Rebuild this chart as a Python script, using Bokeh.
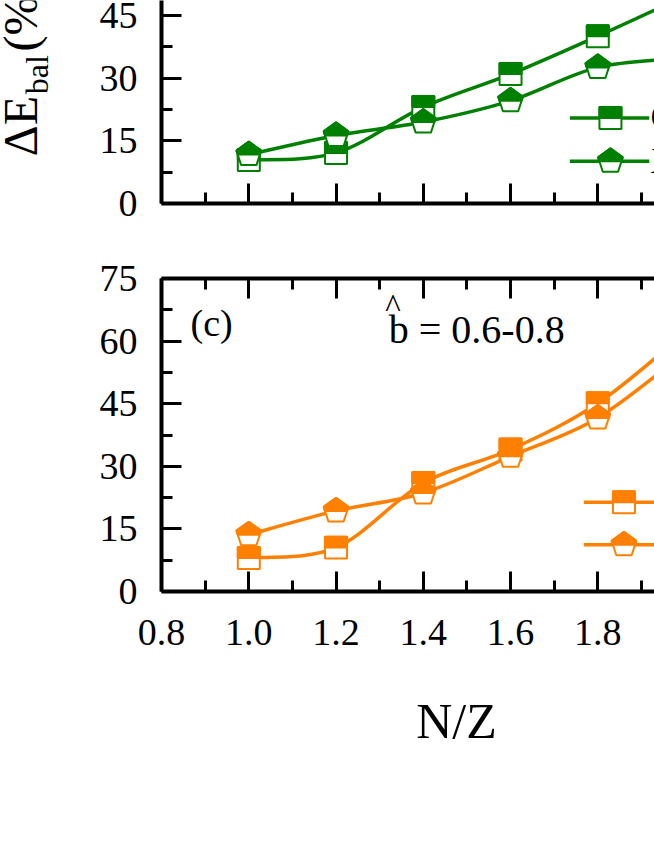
import numpy as np
from bokeh.plotting import figure
from bokeh.models import Range1d, FixedTicker, LinearAxis, Label, PrintfTickFormatter
from bokeh.core.properties import value
from bokeh.layouts import column, row
from bokeh.embed import file_html
from bokeh.resources import INLINE

# ---------------- data ----------------
nz = [1.0, 1.2, 1.4, 1.6, 1.8, 2.0]
top_sq = [10.4, 12.1, 23.1, 31.0, 40.1, 49.7]
top_pent = [11.7, 16.3, 19.5, 24.6, 32.6, 34.8]
bot_sq = [8.0, 10.5, 26.0, 34.0, 45.1, 62.0]
bot_pent = [13.6, 19.3, 23.6, 32.4, 41.6, 57.3]
x_ticks = [0.8, 1.0, 1.2, 1.4, 1.6, 1.8, 2.0, 2.2]
x_minor = [0.9, 1.1, 1.3, 1.5, 1.7, 1.9, 2.1]
y_ticks = [0, 15, 30, 45, 60, 75]
y_minor = [7.5, 22.5, 37.5, 52.5, 67.5]
top_legend = ["Ca", "Xe"]

GREEN = "#008000"
ORANGE = "#FF8000"
FONT = "Liberation Serif"

# ---------------- geometry ----------------
W = 654
LEFT = 161
YLAB_W = 60
X_START, PX_X = 0.7999, 436.25
X_END = X_START + (W - LEFT) / PX_X
PX_Y = 313 / 75.0

H1, B1 = 223, 20
F1 = H1 - B1
H2, T2 = 458, 55
B2 = H2 - T2 - 313
H3 = 120
BASE_FIX = 0.33  # label baseline correction, in em


def style_axis(ax, ticks, minor, labels=True, standoff=20, fmt=None):
    ax.ticker = FixedTicker(ticks=ticks, minor_ticks=minor)
    ax.axis_line_width = 4
    ax.axis_line_color = "black"
    ax.major_tick_in = 20
    ax.major_tick_out = 0
    ax.minor_tick_in = 11
    ax.minor_tick_out = 0
    ax.major_tick_line_width = 3
    ax.minor_tick_line_width = 3
    ax.major_tick_line_color = "black"
    ax.minor_tick_line_color = "black"
    if fmt:
        ax.formatter = PrintfTickFormatter(format=fmt)
    if labels:
        ax.major_label_text_font = FONT
        ax.major_label_text_font_size = "38px"
        ax.major_label_text_color = "black"
        ax.major_label_standoff = standoff
    else:
        ax.major_label_text_font_size = "1px"
        ax.major_label_text_color = None
        ax.major_label_standoff = 0


def make_fig(width, height, left, top, bottom, y_end):
    p = figure(width=width, height=height,
               x_range=Range1d(X_START, X_END), y_range=Range1d(-0.02, y_end),
               output_backend="svg", toolbar_location=None, title=None,
               x_axis_type=None, y_axis_type=None,
               min_border_left=left, min_border_right=0,
               min_border_top=top, min_border_bottom=bottom)
    p.outline_line_color = None
    p.background_fill_color = "white"
    p.border_fill_color = "white"
    return p


def blank_fig(width, height):
    # ranges in pixels, y pointing down, so positions read like the page
    p = figure(width=width, height=height, x_range=Range1d(0, width), y_range=Range1d(height, 0),
               output_backend="svg", toolbar_location=None, title=None,
               x_axis_type=None, y_axis_type=None,
               min_border_left=0, min_border_right=0, min_border_top=0, min_border_bottom=0)
    p.outline_line_color = None
    p.grid.visible = False
    return p


def spline(p, xs, ys, color):
    P = list(zip(xs, ys))
    ext = [P[0]] + P + [P[-1]]
    d = {k: [] for k in ["x0", "y0", "x1", "y1", "cx0", "cy0", "cx1", "cy1"]}
    for i in range(len(P) - 1):
        pm, p0, p1, p2 = ext[i], ext[i + 1], ext[i + 2], ext[i + 3]
        d["x0"].append(p0[0]); d["y0"].append(p0[1])
        d["x1"].append(p1[0]); d["y1"].append(p1[1])
        d["cx0"].append(p0[0] + (p1[0] - pm[0]) / 6.0)
        d["cy0"].append(p0[1] + (p1[1] - pm[1]) / 6.0)
        d["cx1"].append(p1[0] - (p2[0] - p0[0]) / 6.0)
        d["cy1"].append(p1[1] - (p2[1] - p0[1]) / 6.0)
    p.bezier(line_color=color, line_width=3.5, **d)


def squares(p, xs, ys, color, half=11):
    hx, hy = half / PX_X, half / PX_Y
    l = [x - hx for x in xs]; r = [x + hx for x in xs]
    b = [y - hy for y in ys]; t = [y + hy for y in ys]
    p.quad(left=l, right=r, bottom=b, top=t, fill_color="white",
           line_color=color, line_width=2)
    p.quad(left=l, right=r, bottom=list(ys), top=t, fill_color=color,
           line_color=color, line_width=2)


def pentagons(p, xs, ys, color, R=13):
    ang = np.radians([90, 18, -54, -126, 162])
    full = [(np.cos(a), np.sin(a)) for a in ang]
    half = [(0, 1), (0.951, 0.309), (0.8507, 0), (-0.8507, 0), (-0.951, 0.309)]

    def poly(shape):
        pxs = [[x + R * u / PX_X for u, v in shape] for x in xs]
        pys = [[y + R * v / PX_Y for u, v in shape] for y in ys]
        return pxs, pys
    fx, fy = poly(full)
    p.patches(fx, fy, fill_color="white", line_color=color, line_width=2)
    hx, hy = poly(half)
    p.patches(hx, hy, fill_color=color, line_color=color, line_width=2)


def legend_rows(p, x0, x1, xm, y_sq, y_pe, color):
    p.line([x0, x1], [y_sq, y_sq], line_color=color, line_width=3.5)
    p.line([x0, x1], [y_pe, y_pe], line_color=color, line_width=3.5)
    squares(p, [xm], [y_sq], color)
    pentagons(p, [xm], [y_pe], color)


def text_label(p, x, y, txt, size_px, align="left"):
    y = y - BASE_FIX * size_px
    p.add_layout(Label(x=x, y=y, x_units="canvas", y_units="canvas", text=txt,
                       text_font=FONT, text_font_size=f"{size_px}px",
                       text_color="black", text_align=align,
                       text_baseline="alphabetic"))


def vtext(p, x, y, txt, size_px):
    x = x - BASE_FIX * size_px
    p.text(x=[x], y=[y], text=[txt], angle=np.pi / 2, text_font=value(FONT),
           text_font_size=f"{size_px}px", text_color="black",
           text_align="left", text_baseline="alphabetic")


# ---------------- y-axis title strip ----------------
ylab = blank_fig(YLAB_W, H1)
vtext(ylab, 36.3, 171, "ΔE", 48)
vtext(ylab, 47.3, 103, "bal", 32)
vtext(ylab, 36.3, 56, "(%)", 48)

# ---------------- top panel ----------------
p1 = make_fig(W - YLAB_W, H1, LEFT - YLAB_W, 0, B1, F1 / PX_Y)
ax = LinearAxis(); style_axis(ax, y_ticks, y_minor, True, 24); p1.add_layout(ax, "left")
ax = LinearAxis(); style_axis(ax, x_ticks, x_minor, False); p1.add_layout(ax, "below")

spline(p1, nz, top_sq, GREEN)
spline(p1, nz, top_pent, GREEN)
squares(p1, nz, top_sq, GREEN)
pentagons(p1, nz, top_pent, GREEN)
legend_rows(p1, 1.736, 1.918, 1.829, 20.5, 10.1, GREEN)
for txt, yy in zip(top_legend, [128, 172]):
    text_label(p1, 650 - YLAB_W, yy, txt, 36)

# ---------------- bottom panel ----------------
p2 = make_fig(W, H2, LEFT, T2, B2, 75.02)
ax = LinearAxis(); style_axis(ax, y_ticks, y_minor, True, 24); p2.add_layout(ax, "left")
ax = LinearAxis(); style_axis(ax, x_ticks, x_minor, True, 28, "%.1f"); p2.add_layout(ax, "below")
ax = LinearAxis(); style_axis(ax, x_ticks, x_minor, False); p2.add_layout(ax, "above")

spline(p2, nz, bot_sq, ORANGE)
spline(p2, nz, bot_pent, ORANGE)
squares(p2, nz, bot_sq, ORANGE)
pentagons(p2, nz, bot_pent, ORANGE)
legend_rows(p2, 1.768, 2.0, 1.860, 21.4, 11.2, ORANGE)

text_label(p2, 190, 112, "(c)", 38)
text_label(p2, 388.3, 118.7, "b = 0.6-0.8", 40)
text_label(p2, 392.5, 93.8, "^", 33, align="center")

# ---------------- x-axis title strip ----------------
xlab = blank_fig(W, H3)
text_label(xlab, 456, 736.7 - H1 - H2, "N/Z", 50, align="center")

layout = column(row(ylab, p1, spacing=0), p2, xlab, spacing=0)
open("out.html", "w").write(file_html(layout, INLINE))
